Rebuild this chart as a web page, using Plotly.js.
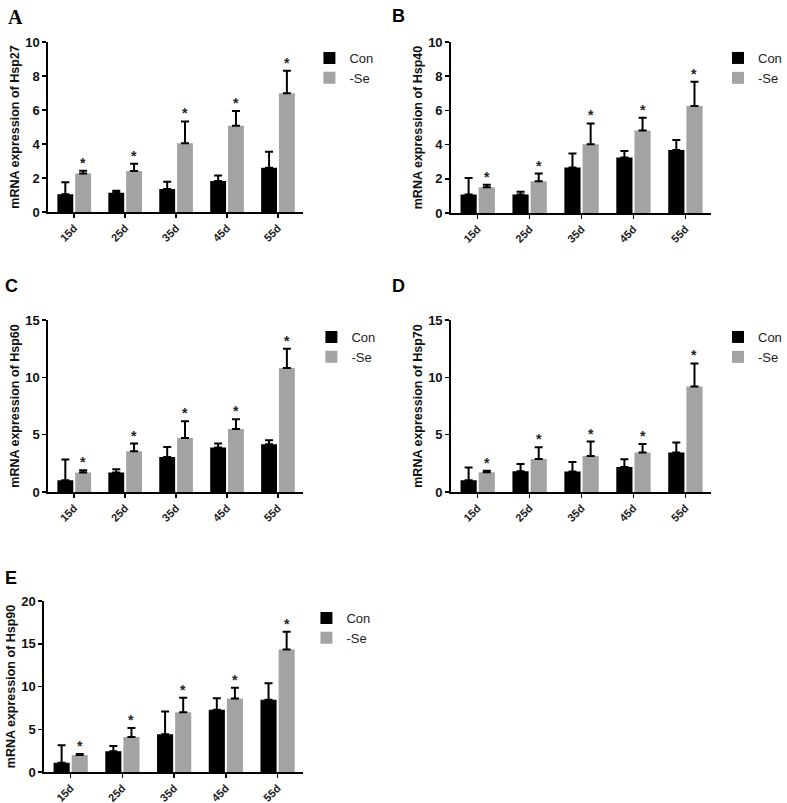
<!DOCTYPE html>
<html><head><meta charset="utf-8">
<script src="https://cdn.plot.ly/plotly-3.0.1.min.js"></script>
<style>html,body{margin:0;padding:0;background:#fff}</style>
</head><body><div id="chart" style="width:787px;height:803px"></div>
<script>
const days = ["15d","25d","35d","45d","55d"];
const seriesNames = ["Con","-Se"];
const panelLetters = ["A","B","C","D","E"];
const genes = ["Hsp27","Hsp40","Hsp60","Hsp70","Hsp90"];

const hsp27Con = [1.04, 1.13, 1.35, 1.82, 2.60];
const hsp27ConErr = [0.71, 0.12, 0.43, 0.32, 0.95];
const hsp27Se = [2.27, 2.41, 4.04, 5.08, 6.98];
const hsp27SeErr = [0.16, 0.43, 1.29, 0.86, 1.33];

const hsp40Con = [1.08, 1.08, 2.66, 3.24, 3.69];
const hsp40ConErr = [0.96, 0.16, 0.82, 0.39, 0.58];
const hsp40Se = [1.51, 1.86, 4.02, 4.82, 6.25];
const hsp40SeErr = [0.14, 0.45, 1.22, 0.75, 1.42];

const hsp60Con = [1.02, 1.69, 3.06, 3.87, 4.17];
const hsp60ConErr = [1.81, 0.29, 0.87, 0.35, 0.34];
const hsp60Se = [1.69, 3.55, 4.72, 5.50, 10.81];
const hsp60SeErr = [0.20, 0.67, 1.46, 0.85, 1.69];

const hsp70Con = [1.02, 1.81, 1.78, 2.18, 3.44];
const hsp70ConErr = [1.11, 0.64, 0.84, 0.67, 0.87];
const hsp70Se = [1.72, 2.88, 3.15, 3.44, 9.20];
const hsp70SeErr = [0.14, 1.02, 1.25, 0.75, 2.01];

const hsp90Con = [1.09, 2.42, 4.41, 7.27, 8.44];
const hsp90ConErr = [2.03, 0.63, 2.66, 1.36, 1.95];
const hsp90Se = [1.99, 4.10, 6.99, 8.59, 14.34];
const hsp90SeErr = [0.12, 1.06, 1.68, 1.25, 2.06];

const yMax = [10, 10, 15, 15, 20];
const yStep = [2, 2, 5, 5, 5];

const conData = [hsp27Con, hsp40Con, hsp60Con, hsp70Con, hsp90Con];
const conErrData = [hsp27ConErr, hsp40ConErr, hsp60ConErr, hsp70ConErr, hsp90ConErr];
const seData = [hsp27Se, hsp40Se, hsp60Se, hsp70Se, hsp90Se];
const seErrData = [hsp27SeErr, hsp40SeErr, hsp60SeErr, hsp70SeErr, hsp90SeErr];

// layout geometry (pixels)
const W = 787, H = 803;
const boxes = [
  {x:[48,305], y:[42,212], leg:[311,43], lab:[6,4]},
  {x:[453,715], y:[42,213], leg:[722,43], lab:[392,4]},
  {x:[48,305], y:[320,492], leg:[313,322], lab:[3,274]},
  {x:[453,715], y:[320,492], leg:[722,322], lab:[392,274]},
  {x:[44,305], y:[601,772], leg:[308,603], lab:[3,566]}
];
const BARGAP = 0.30, GROUPGAP = 0.11;
const seOffset = (1 - BARGAP) / 4;

const FONT = "Liberation Sans, Arial, sans-serif";
const data = [];
const layout = {
  width: W, height: H,
  margin: {l:0, r:0, t:0, b:0},
  paper_bgcolor: "#fff", plot_bgcolor: "#fff",
  barmode: "group", bargap: BARGAP, bargroupgap: GROUPGAP,
  font: {family: FONT, color: "#000"},
  showlegend: true,
  annotations: [], shapes: []
};

boxes.forEach((b, i) => {
  const n = i + 1;
  const xa = n === 1 ? "x" : "x" + n;
  const ya = n === 1 ? "y" : "y" + n;
  const legName = n === 1 ? "legend" : "legend" + n;
  data.push({
    type: "bar", name: seriesNames[0], x: days, y: conData[i],
    xaxis: xa, yaxis: ya, legend: legName,
    marker: {color: "#000000", line: {width: 0}},
    error_y: {type: "data", symmetric: false, array: conErrData[i], arrayminus: conErrData[i].map(() => 0),
              color: "#000", thickness: 2, width: 4}
  });
  data.push({
    type: "bar", name: seriesNames[1], x: days, y: seData[i],
    xaxis: xa, yaxis: ya, legend: legName,
    marker: {color: "#a3a3a3", line: {width: 0}},
    error_y: {type: "data", symmetric: false, array: seErrData[i], arrayminus: seErrData[i].map(() => 0),
              color: "#000", thickness: 2, width: 4}
  });
  layout[n === 1 ? "xaxis" : "xaxis" + n] = {
    domain: [b.x[0] / W, b.x[1] / W], anchor: ya,
    type: "category", range: [-0.52, 4.5],
    showline: true, linecolor: "#000", linewidth: 1.5,
    ticks: "outside", ticklen: 4, tickwidth: 1.5, tickcolor: "#000",
    tickangle: -45, tickfont: {family: FONT, size: 11, color: "#222", weight: "bold"},
    showgrid: false, zeroline: false, fixedrange: true
  };
  layout[n === 1 ? "yaxis" : "yaxis" + n] = {
    domain: [1 - b.y[1] / H, 1 - b.y[0] / H], anchor: xa,
    range: [0, yMax[i]], dtick: yStep[i], tick0: 0,
    showline: true, linecolor: "#000", linewidth: 1.5,
    ticks: "outside", ticklen: 4, tickwidth: 1.5, tickcolor: "#000",
    tickfont: {family: FONT, size: 13, color: "#111", weight: "bold"},
    showgrid: false, zeroline: false, fixedrange: true,
    title: {text: "<b>mRNA expression of " + genes[i] + "</b>", font: {family: FONT, size: 12.5, color: "#111"}, standoff: 3}
  };
  layout[legName] = {
    x: b.leg[0] / W, y: 1 - b.leg[1] / H, xanchor: "left", yanchor: "top",
    bgcolor: "rgba(0,0,0,0)", borderwidth: 0,
    font: {family: FONT, size: 13, color: "#222"},
    tracegroupgap: 0, itemclick: false
  };
  // significance stars above -Se bars
  days.forEach((d, k) => {
    layout.annotations.push({
      xref: xa, yref: ya, x: k + seOffset, y: seData[i][k] + seErrData[i][k],
      text: "<b>*</b>", showarrow: false, yanchor: "bottom", xanchor: "center", yshift: -2,
      font: {family: FONT, size: 14, color: "#222"}
    });
  });
  // panel letter
  layout.annotations.push({
    xref: "paper", yref: "paper", x: b.lab[0] / W, y: 1 - b.lab[1] / H,
    xanchor: "left", yanchor: "top", showarrow: false,
    text: "<b>" + panelLetters[i] + "</b>",
    font: i === 0 ? {family: "Liberation Serif, Times New Roman, serif", size: 20, color: "#000"}
                  : {family: FONT, size: 18, color: "#000"}
  });
});

Plotly.newPlot("chart", data, layout, {displayModeBar: false, staticPlot: true});
</script>
</body></html>
